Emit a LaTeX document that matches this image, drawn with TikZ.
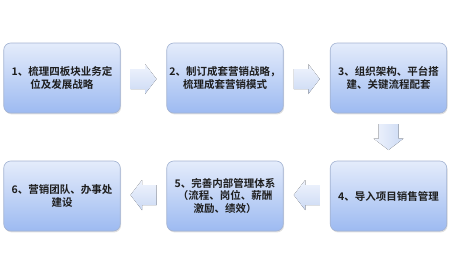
\documentclass[tikz,border=0pt]{standalone}
\usepackage{fontspec}
\newfontfamily\cjk{Noto Sans CJK SC}[BoldFont={Noto Sans CJK SC Bold}]
\usetikzlibrary{calc,shadows}
\definecolor{boxtop}{HTML}{E4ECFB}
\definecolor{boxbot}{HTML}{9DBAF1}
\definecolor{boxline}{HTML}{A3B3D2}
\definecolor{arrlight}{HTML}{F0F4FD}
\definecolor{arrdark}{HTML}{CCDAF4}
\definecolor{txt}{HTML}{1E1E1E}
\begin{document}
\begin{tikzpicture}[x=1pt,y=1pt,
  stepbox/.style={draw=boxline, line width=0.6pt, rounded corners=7pt,
    top color=boxtop, bottom color=boxbot,
    minimum width=116.5pt, minimum height=70pt, inner sep=2pt,
    align=center, text=txt,
    font=\cjk\bfseries\fontsize{10.5}{12.4}\selectfont,
    drop shadow={opacity=0.25, shadow xshift=0.8pt, shadow yshift=-1.4pt}},
  flowarrow/.pic={
    \fill[pic actions] (-13,-10) -- (1.5,-10) -- (1.5,-15) -- (13,0) -- (1.5,15) -- (1.5,10) -- (-13,10) -- cycle;
  }]
\useasboundingbox (0,0) rectangle (450,274);
\node[stepbox] (b1) at (62,196) {1、梳理四板块业务定\\位及发展战略};
\node[stepbox] (b2) at (225,196) {2、制订成套营销战略，\\梳理成套营销模式};
\node[stepbox] (b3) at (388.5,196) {3、组织架构、平台搭\\建、关键流程配套};
\node[stepbox] (b4) at (388.5,78) {4、导入项目销售管理};
\node[stepbox] (b5) at (225,78) {5、完善内部管理体系\\（流程、岗位、薪酬\\激励、绩效）};
\node[stepbox] (b6) at (62,78) {6、营销团队、办事处\\建设};
\pic[top color=arrlight, bottom color=arrdark] at ($(b1.east)!0.5!(b2.west)+(0,-1)$) {flowarrow};
\pic[top color=arrlight, bottom color=arrdark] at ($(b2.east)!0.5!(b3.west)+(0,-1)$) {flowarrow};
\pic[rotate=-90, left color=arrlight, right color=arrdark] at ($(b3.south)!0.5!(b4.north)$) {flowarrow};
\pic[rotate=180, top color=arrlight, bottom color=arrdark] at ($(b5.east)!0.5!(b4.west)+(0,1)$) {flowarrow};
\pic[rotate=180, top color=arrlight, bottom color=arrdark] at ($(b6.east)!0.5!(b5.west)+(0,1)$) {flowarrow};
\end{tikzpicture}
\end{document}
